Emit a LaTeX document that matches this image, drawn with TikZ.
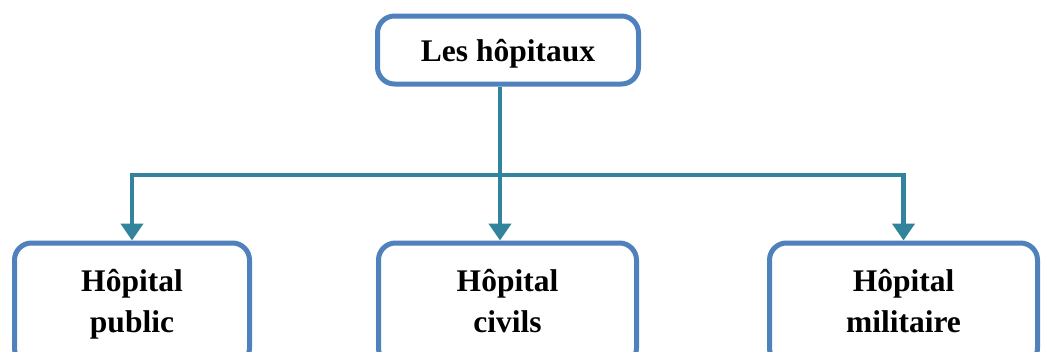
\documentclass[tikz,border=0pt]{standalone}
\usepackage{fontspec}
\setmainfont{Liberation Serif}
\usetikzlibrary{arrows.meta}
\definecolor{boxblue}{HTML}{4F81BD}
\definecolor{conncol}{HTML}{31849B}
\tikzset{
  box/.style={draw=boxblue, line width=5pt, rounded corners=17pt, fill=white,
    align=center, font=\fontsize{31.5}{41}\selectfont\bfseries, inner sep=0pt},
  conn/.style={draw=conncol, line width=4.6pt},
  arr/.style={conn, -{Triangle[width=22pt,length=17pt]}}
}
\begin{document}
\begin{tikzpicture}[x=1pt,y=-1pt]
\useasboundingbox (0,0) rectangle (1041,351);
\clip (0,0) rectangle (1041,351);
\fill[white] (0,0) rectangle (1041,351);
\node[box, minimum width=261pt, minimum height=68pt, text depth=0pt] (top) at (508,50) {Les hôpitaux};
\node[box, minimum width=235pt, minimum height=122pt] (left) at (132,304) {Hôpital\strut\\public\strut};
\node[box, minimum width=258pt, minimum height=122pt] (mid) at (507.5,304) {Hôpital\strut\\civils\strut};
\node[box, minimum width=268pt, minimum height=122pt] (right) at (903.5,304) {Hôpital\strut\\militaire\strut};
\coordinate (j) at (500,175);
\draw[conn] (top.south -| j) -- (j);
\draw[arr] ([xshift=2pt]j) -| (left.north);
\draw[arr] ([xshift=-2pt]j) -| (right.north);
\draw[arr] (j) -- (mid.north -| j);
\end{tikzpicture}
\end{document}
